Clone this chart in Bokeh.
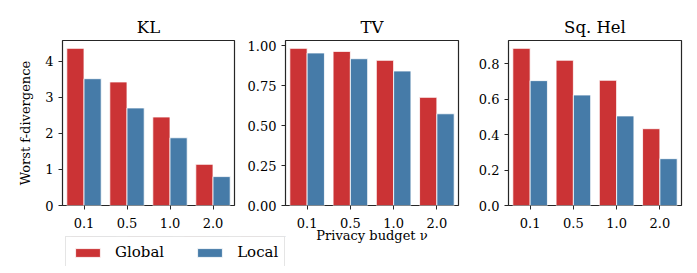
from bokeh.plotting import figure
from bokeh.models import (ColumnDataSource, FactorRange, Range1d, FixedTicker,
                          PrintfTickFormatter, Legend, LegendItem, Title)
from bokeh.transform import dodge
from bokeh.layouts import row, column
from bokeh.embed import file_html
from bokeh.resources import INLINE

# ---- data ----
nu_labels = ["0.1", "0.5", "1.0", "2.0"]
kl_global = [4.35, 3.42, 2.45, 1.14]
kl_local = [3.51, 2.70, 1.875, 0.80]
tv_global = [0.985, 0.966, 0.910, 0.678]
tv_local = [0.956, 0.920, 0.843, 0.575]
hel_global = [0.886, 0.819, 0.706, 0.433]
hel_local = [0.704, 0.623, 0.505, 0.264]

titles = ["KL", "TV", "Sq. Hel"]
series_names = ["Global", "Local"]
kl_ticks = [0, 1, 2, 3, 4]
tv_ticks = [0.0, 0.25, 0.5, 0.75, 1.0]
hel_ticks = [0.0, 0.2, 0.4, 0.6, 0.8]

RED = "#cb3335"
BLUE = "#467ba8"
TXT = "#262626"
FONT = "DejaVu Serif"
FS = "13px"


def make_panel(title, g, l, ticks, fmt, left_border, right_border,
               ylabel=None, xlabel=None, frame_w=173):
    src = ColumnDataSource(dict(nu=nu_labels, g=g, l=l))
    ymax = max(g + l) * 1.05
    p = figure(x_range=FactorRange(*nu_labels, range_padding=0), y_range=Range1d(0, ymax),
               frame_width=frame_w, frame_height=165, output_backend="svg",
               toolbar_location=None, tools="")
    p.min_border_left = left_border
    p.min_border_right = right_border
    p.min_border_top = 40
    p.min_border_bottom = 60
    p.border_fill_color = None
    p.background_fill_color = "white"
    p.outline_line_color = TXT
    p.outline_line_width = 1.2
    p.grid.visible = False

    p.vbar(x=dodge("nu", -0.2, range=p.x_range), top="g", width=0.4, source=src,
           fill_color=RED, line_color="white", line_width=0.8)
    p.vbar(x=dodge("nu", 0.2, range=p.x_range), top="l", width=0.4, source=src,
           fill_color=BLUE, line_color="white", line_width=0.8)

    t = Title(text=title, align="center", text_font=FONT, text_font_size="16.5px",
              text_font_style="normal", text_color="black", standoff=8)
    p.add_layout(t, "above")

    for ax in (p.xaxis[0], p.yaxis[0]):
        ax.axis_line_color = None
        ax.major_tick_in = 0
        ax.major_tick_out = 4
        ax.minor_tick_line_color = None
        ax.major_tick_line_color = TXT
        ax.major_label_text_font = FONT
        ax.major_label_text_font_size = FS
        ax.major_label_text_color = "black"
        ax.major_label_standoff = 5
        ax.axis_label_text_font = FONT
        ax.axis_label_text_font_size = FS
        ax.axis_label_text_font_style = "normal"
        ax.axis_label_text_color = "black"
    p.xaxis.major_label_standoff = 8
    p.yaxis.ticker = FixedTicker(ticks=ticks)
    p.yaxis.formatter = PrintfTickFormatter(format=fmt)
    if ylabel:
        p.yaxis.axis_label = ylabel
        p.yaxis.axis_label_standoff = 9
    if xlabel:
        p.xaxis.axis_label = xlabel
        p.xaxis.axis_label_standoff = -3
    return p, src


p1, src1 = make_panel(titles[0], kl_global, kl_local, kl_ticks, "%d", 62, 10,
                      ylabel="Worst f-divergence", frame_w=172)
p2, _ = make_panel(titles[1], tv_global, tv_local, tv_ticks, "%.2f", 49, 10,
                   xlabel="Privacy budget \u03bd")
p3, _ = make_panel(titles[2], hel_global, hel_local, hel_ticks, "%.1f", 40, 10)
p2.margin = (0, 0, 0, -8)

# legend-only figure (its bars lie outside its y range, so only the legend shows)
pl = figure(width=226, height=30, x_range=FactorRange(*nu_labels), y_range=Range1d(-2, -1),
            output_backend="svg", toolbar_location=None, tools="",
            x_axis_location=None, y_axis_location=None,
            min_border_left=0, min_border_right=0, min_border_top=0, min_border_bottom=0)
pl.grid.visible = False
pl.outline_line_color = None
pl.background_fill_color = None
pl.border_fill_color = None
lg = pl.vbar(x=dodge("nu", -0.2, range=pl.x_range), top="g", width=0.4, source=src1,
             fill_color=RED, line_color="white", line_width=0.8)
ll = pl.vbar(x=dodge("nu", 0.2, range=pl.x_range), top="l", width=0.4, source=src1,
             fill_color=BLUE, line_color="white", line_width=0.8)
legend = Legend(items=[LegendItem(label=series_names[0], renderers=[lg]),
                       LegendItem(label=series_names[1], renderers=[ll])],
                location="top_left", orientation="horizontal", margin=0,
                padding=6, spacing=30, glyph_width=31, glyph_height=11,
                label_standoff=12, label_height=16, label_text_font=FONT,
                label_text_font_size="15px", label_text_color="black",
                border_line_color="#cccccc", border_line_width=1,
                background_fill_color="white", background_fill_alpha=0.8)
pl.add_layout(legend, "center")
pl.margin = (-29, 0, 0, 65)

layout = column(row(p1, p2, p3, spacing=0), pl, spacing=0)
open("out.html", "w").write(file_html(layout, INLINE))
